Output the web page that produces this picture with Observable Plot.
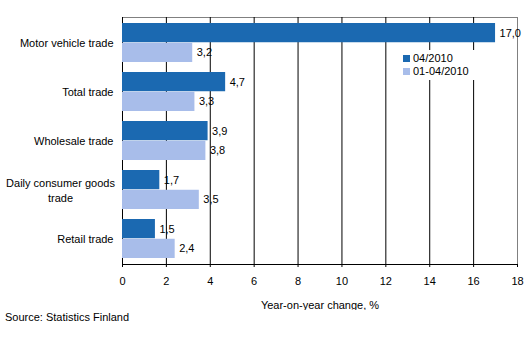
<!DOCTYPE html>
<html>
<head>
<meta charset="utf-8">
<script src="https://cdn.jsdelivr.net/npm/d3@7"></script>
<script src="https://cdn.jsdelivr.net/npm/@observablehq/plot@0.6"></script>
<style>
  body { margin: 0; background: #fff; font-family: Arial, "Liberation Sans", sans-serif; }
  #wrap { position: relative; width: 531px; height: 358px; }
  #legend { position: absolute; left: 398px; top: 50px; width: 78px; height: 30px; background: #fff; font-size: 11px; color: #000; }
  .item { position: absolute; left: 5px; height: 13px; line-height: 13px; white-space: nowrap; }
  .sw { display: inline-block; width: 7px; height: 7px; margin-right: 3px; vertical-align: 0px; }
  #source { position: absolute; left: 5px; top: 311px; font-size: 11px; line-height: 13px; color: #000; }
</style>
</head>
<body>
<div id="wrap"></div>
<script>
const categories = ["Motor vehicle trade", "Total trade", "Wholesale trade", "Daily consumer goods trade", "Retail trade"];
const series = ["04/2010", "01-04/2010"];
const apr2010 = [17.0, 4.7, 3.9, 1.7, 1.5];
const janApr2010 = [3.2, 3.3, 3.8, 3.5, 2.4];
const xTicks = [0, 2, 4, 6, 8, 10, 12, 14, 16, 18];
const colors = ["#1b69b1", "#a8bdea"];

const data = [];
categories.forEach((c, i) => {
  data.push({category: c, series: series[0], value: apr2010[i]});
  data.push({category: c, series: series[1], value: janApr2010[i]});
});

const W = 531, H = 310, mt = 17, mb = 46, ml = 122, mr = 14;
const pi = 0.2, po = 0.1;
const step = (H - mt - mb) / (categories.length - pi + 2 * po);
const bw = step * (1 - pi);
const half = bw / 2;
const fmt = v => v.toFixed(1).replace(".", ",");
const daily = "Daily consumer goods trade";

const chart = Plot.plot({
  width: W, height: H,
  marginTop: mt, marginBottom: mb, marginLeft: ml, marginRight: mr,
  style: {fontFamily: 'Arial, "Liberation Sans", sans-serif', fontSize: "11px", color: "#000", background: "#fff"},
  x: {domain: [0, 18], axis: null},
  y: {domain: categories, type: "band", paddingInner: pi, paddingOuter: po, axis: null},
  color: {domain: series, range: colors},
  marks: [
    Plot.frame({stroke: "#808080"}),
    Plot.text(data.filter(d => d.series === series[0]), {x: "value", y: "category", text: d => fmt(d.value), dx: 4, dy: -half / 2, textAnchor: "start", fill: "#000", fontSize: 11}),
    Plot.text(data.filter(d => d.series === series[1]), {x: "value", y: "category", text: d => fmt(d.value), dx: 4, dy: half / 2, textAnchor: "start", fill: "#000", fontSize: 11}),
    Plot.ruleX(xTicks.filter(t => t < 18), {stroke: "#000", strokeWidth: 1}),
    Plot.barX(data.filter(d => d.series === series[0]), {x: "value", y: "category", fill: "series", insetBottom: half}),
    Plot.barX(data.filter(d => d.series === series[1]), {x: "value", y: "category", fill: "series", insetTop: half}),
    Plot.frame({anchor: "bottom", stroke: "#000"}),
    Plot.axisX({ticks: xTicks, tickSize: 3, tickPadding: 10, stroke: "#000", fill: "#000", fontSize: 11,
      label: "Year-on-year change, %", labelAnchor: "center", labelArrow: "none", labelOffset: 44}),
    Plot.text(categories.filter(c => c !== daily), {y: d => d, text: d => d, frameAnchor: "left", dx: -9, textAnchor: "end", fill: "#000", fontSize: 11}),
    Plot.text([daily], {y: d => d, text: () => "Daily consumer goods\ntrade", frameAnchor: "left", dx: -62, textAnchor: "middle", lineHeight: 1.3, fill: "#000", fontSize: 11})
  ]
});

const wrap = document.getElementById("wrap");
wrap.appendChild(chart);

const legend = document.createElement("div");
legend.id = "legend";
series.forEach((s, i) => {
  const it = document.createElement("div");
  it.className = "item";
  it.style.top = (2 + i * 13) + "px";
  it.innerHTML = `<span class="sw" style="background:${colors[i]}"></span>${s}`;
  legend.appendChild(it);
});
wrap.appendChild(legend);

const src = document.createElement("div");
src.id = "source";
src.textContent = "Source: Statistics Finland";
wrap.appendChild(src);
</script>
</body>
</html>
